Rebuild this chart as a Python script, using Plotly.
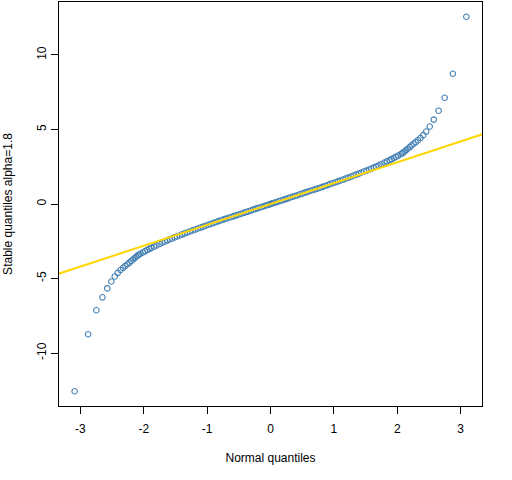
import plotly.graph_objects as go

# normal quantiles (x) and stable alpha=1.8 quantiles (y)
normal_q = [
    -3.090, -2.878, -2.748, -2.652, -2.576, -2.512, -2.457, -2.409, -2.366, -2.326,
    -2.290, -2.257, -2.226, -2.197, -2.170, -2.144, -2.120, -2.097, -2.075, -2.054,
    -2.014, -1.977, -1.943, -1.911, -1.881, -1.838, -1.799, -1.751, -1.706, -1.665,
    -1.626, -1.589, -1.555, -1.514, -1.476, -1.433, -1.392, -1.353, -1.311, -1.270,
    -1.227, -1.185, -1.146, -1.103, -1.063, -1.024, -0.982, -0.942, -0.900, -0.860,
    -0.820, -0.779, -0.739, -0.700, -0.659, -0.619, -0.580, -0.542, -0.502, -0.462,
    -0.424, -0.385, -0.348, -0.311, -0.275, -0.238, -0.202, -0.166, -0.131, -0.095,
    -0.060, -0.025, 0.000,
    0.025, 0.060, 0.095, 0.131, 0.166, 0.202, 0.238, 0.275, 0.311, 0.348,
    0.385, 0.424, 0.462, 0.502, 0.542, 0.580, 0.619, 0.659, 0.700, 0.739,
    0.779, 0.820, 0.860, 0.900, 0.942, 0.982, 1.024, 1.063, 1.103, 1.146,
    1.185, 1.227, 1.270, 1.311, 1.353, 1.392, 1.433, 1.476, 1.514, 1.555,
    1.589, 1.626, 1.665, 1.706, 1.751, 1.799, 1.838, 1.881, 1.911, 1.943,
    1.977, 2.014, 2.054, 2.075, 2.097, 2.120, 2.144, 2.170, 2.197, 2.226,
    2.257, 2.290, 2.326, 2.366, 2.409, 2.457, 2.512, 2.576, 2.652, 2.748,
    2.878, 3.090,
]
stable_q = [
    -12.56, -8.74, -7.13, -6.26, -5.66, -5.20, -4.86, -4.62, -4.43, -4.28,
    -4.15, -4.04, -3.93, -3.82, -3.72, -3.63, -3.54, -3.46, -3.40, -3.34,
    -3.25, -3.16, -3.08, -3.01, -2.94, -2.86, -2.78, -2.68, -2.59, -2.51,
    -2.44, -2.36, -2.31, -2.24, -2.18, -2.11, -2.04, -1.97, -1.91, -1.84,
    -1.77, -1.71, -1.64, -1.58, -1.52, -1.46, -1.39, -1.34, -1.27, -1.21,
    -1.15, -1.09, -1.03, -0.98, -0.92, -0.87, -0.81, -0.76, -0.70, -0.65,
    -0.59, -0.54, -0.49, -0.44, -0.38, -0.33, -0.28, -0.23, -0.18, -0.13,
    -0.08, -0.04, 0.00,
    0.04, 0.08, 0.13, 0.18, 0.23, 0.28, 0.33, 0.38, 0.44, 0.49,
    0.54, 0.59, 0.65, 0.70, 0.76, 0.81, 0.87, 0.92, 0.98, 1.03,
    1.09, 1.15, 1.21, 1.27, 1.34, 1.39, 1.46, 1.52, 1.58, 1.64,
    1.71, 1.77, 1.84, 1.91, 1.97, 2.04, 2.11, 2.18, 2.24, 2.31,
    2.36, 2.44, 2.51, 2.59, 2.68, 2.78, 2.86, 2.94, 3.01, 3.08,
    3.16, 3.25, 3.34, 3.40, 3.46, 3.54, 3.63, 3.72, 3.82, 3.93,
    4.04, 4.15, 4.28, 4.43, 4.62, 4.86, 5.20, 5.66, 6.26, 7.13,
    8.74, 12.56,
]

# qqline through the quartiles
line_slope = 1.40
line_intercept = 0.0
line_x = [-3.6, 3.6]

x_ticks = [-3, -2, -1, 0, 1, 2, 3]
x_labels = ["-3", "-2", "-1", "0", "1", "2", "3"]
y_ticks = [-10, -5, 0, 5, 10]
y_labels = ["-10", "-5", "0", "5", "10"]

fig = go.Figure()
fig.add_trace(go.Scatter(
    x=normal_q, y=stable_q, mode="markers",
    marker=dict(symbol="circle-open", size=5.5, color="steelblue",
                line=dict(width=1.1, color="steelblue")),
))
fig.add_trace(go.Scatter(
    x=line_x, y=[line_intercept + line_slope * v for v in line_x],
    mode="lines", line=dict(color="#FFD700", width=2),
))

axis_style = dict(showgrid=False, zeroline=False, showline=True, mirror=True,
                  linecolor="black", linewidth=1, ticks="outside", ticklen=7,
                  tickcolor="black", tickfont=dict(size=12, color="black"),
                  automargin=False)

fig.update_xaxes(range=[-3.337, 3.337], tickvals=x_ticks, ticktext=x_labels,
                 ticklabelstandoff=5,
                 title=dict(text="Normal quantiles", standoff=18,
                            font=dict(size=12, color="black")),
                 **axis_style)
fig.update_yaxes(range=[-13.55, 13.55], tickvals=y_ticks, ticktext=y_labels,
                 tickangle=-90,
                 title=dict(text="Stable quantiles alpha=1.8", standoff=20,
                            font=dict(size=12, color="black")),
                 **axis_style)

fig.update_layout(
    width=512, height=480, showlegend=False,
    margin=dict(l=59, r=30, t=2, b=74),
    plot_bgcolor="white", paper_bgcolor="white",
    font=dict(family="Liberation Sans, Arial, sans-serif", size=12, color="black"),
)

# R device has no page margin, so drop the browser's default body margin
fig.write_html("out.html", config={"displayModeBar": False},
               post_script="document.body.style.margin='0';")
